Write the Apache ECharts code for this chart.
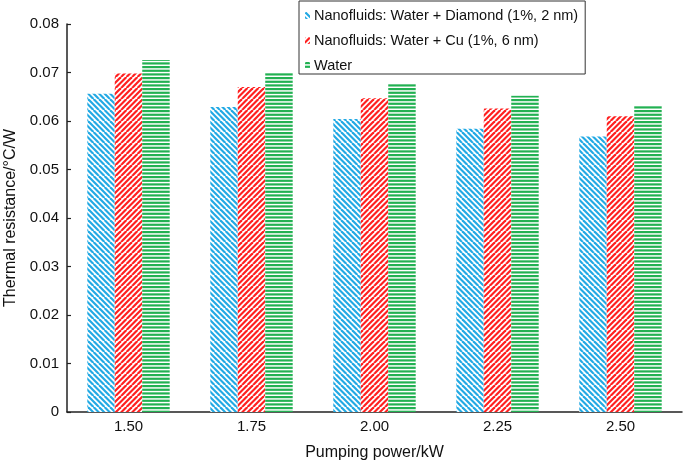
<!DOCTYPE html>
<html>
<head>
<meta charset="utf-8">
<script src="https://cdn.jsdelivr.net/npm/echarts@6/dist/echarts.min.js"></script>
<style>html,body{margin:0;padding:0;background:#fff}#c{width:685px;height:461px}</style>
</head>
<body>
<div id="c"></div>
<script>
const categories = ['1.50', '1.75', '2.00', '2.25', '2.50'];
const diamond = [0.0656, 0.0629, 0.0604, 0.0584, 0.0568];
const copper = [0.0698, 0.0670, 0.0647, 0.0626, 0.0610];
const water = [0.0726, 0.0699, 0.0678, 0.0652, 0.0632];
const seriesNames = ['Nanofluids: Water + Diamond (1%, 2 nm)', 'Nanofluids: Water + Cu (1%, 6 nm)', 'Water'];
const yTicks = [0, 0.01, 0.02, 0.03, 0.04, 0.05, 0.06, 0.07, 0.08];

function diagPattern(color, dir) {
  const c = document.createElement('canvas');
  c.width = 11; c.height = 11;
  const g = c.getContext('2d');
  g.fillStyle = '#fff'; g.fillRect(0, 0, 11, 11);
  g.strokeStyle = color; g.lineWidth = 2.2;
  for (const k of [-11, -5.5, 0, 5.5, 11]) {
    g.beginPath();
    if (dir === 'back') { g.moveTo(k, 0); g.lineTo(k + 11, 11); }
    else { g.moveTo(k + 11, 0); g.lineTo(k, 11); }
    g.stroke();
  }
  return { image: c, repeat: 'repeat' };
}
function horizPattern(color) {
  const c = document.createElement('canvas');
  c.width = 4; c.height = 11;
  const g = c.getContext('2d');
  g.fillStyle = '#fff'; g.fillRect(0, 0, 4, 11);
  g.fillStyle = color;
  for (const y of [0, 3.67, 7.33]) g.fillRect(0, y, 4, 2.2);
  return { image: c, repeat: 'repeat' };
}

const chart = echarts.init(document.getElementById('c'), null, { renderer: 'canvas' });
const font = 'Liberation Sans, Arial, Helvetica, sans-serif';
const data = [diamond, copper, water];
const fills = [diagPattern('#22a9e4', 'back'), diagPattern('#ff1f1f', 'fwd'), horizPattern('#22b152')];

chart.setOption({
  animation: false,
  backgroundColor: '#fff',
  textStyle: { fontFamily: font },
  grid: { left: 67, right: 3, top: 24, bottom: 49, containLabel: false, outerBoundsMode: 'none' },
  legend: {
    orient: 'vertical',
    left: 299, top: 1,
    padding: [7, 7, 1, 6],
    borderColor: '#333', borderWidth: 1,
    backgroundColor: '#fff',
    itemWidth: 5, itemHeight: 7, itemGap: 10,
    textStyle: { fontFamily: font, fontSize: 14.5, color: '#111', padding: [0, 0, 0, -1] },
    data: seriesNames
  },
  xAxis: {
    type: 'category',
    data: categories,
    name: 'Pumping power/kW',
    nameLocation: 'middle',
    nameGap: 33,
    nameTextStyle: { fontFamily: font, fontSize: 16, color: '#111' },
    axisLine: { lineStyle: { color: '#222', width: 1.5 } },
    axisTick: { inside: true, length: 4, lineStyle: { color: '#222', width: 1.2 } },
    axisLabel: { fontFamily: font, fontSize: 15, color: '#111', margin: 7 }
  },
  yAxis: {
    type: 'value',
    min: 0, max: 0.08, interval: 0.01,
    name: 'Thermal resistance/°C/W',
    nameLocation: 'middle',
    nameGap: 47,
    nameRotate: 90,
    nameTextStyle: { fontFamily: font, fontSize: 16, color: '#111' },
    splitLine: { show: false },
    axisLine: { show: true, lineStyle: { color: '#222', width: 1.5 } },
    axisTick: { show: true, inside: true, length: 4, lineStyle: { color: '#222', width: 1.2 } },
    axisLabel: {
      fontFamily: font, fontSize: 15, color: '#111', margin: 8,
      formatter: v => { const t = yTicks.find(x => Math.abs(x - v) < 1e-9); return t === 0 ? '0' : (t !== undefined ? t.toFixed(2) : ''); }
    }
  },
  series: seriesNames.map((n, i) => ({
    name: n,
    type: 'bar',
    data: data[i],
    barGap: '0%',
    barCategoryGap: '33%',
    itemStyle: { color: fills[i] }
  }))
});
</script>
</body>
</html>
